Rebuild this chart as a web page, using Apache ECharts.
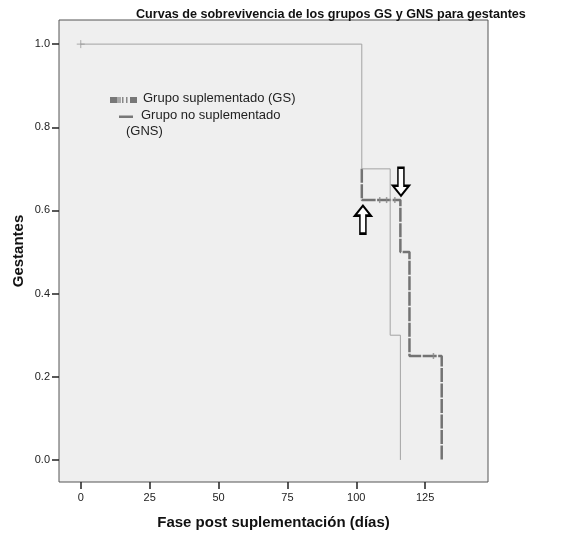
<!DOCTYPE html>
<html>
<head>
<meta charset="utf-8">
<script src="https://cdn.jsdelivr.net/npm/echarts@6/dist/echarts.min.js"></script>
<style>
html, body { margin: 0; padding: 0; background: #fff; }
#chart { width: 584px; height: 535px; }
</style>
</head>
<body>
<div id="chart"></div>
<script>
// Kaplan-Meier steps (GS is hidden under GNS above 0.7)
var gsTimes = [102, 102, 116, 119.3, 131];
var gsSurv = [0.7, 0.625, 0.5, 0.25, 0];
var gnsTimes = [0, 102, 112.3, 116];
var gnsSurv = [1, 0.7, 0.3, 0];
// censored marks
var gsCensorT = [108.5, 111, 114, 128];
var gsCensorS = [0.625, 0.625, 0.625, 0.25];
var gnsCensorT = [0];
var gnsCensorS = [1];
// arrow annotations (time, survival, direction)
var arrowT = [102.4, 116.2];
var arrowS = [0.578, 0.669];
var arrowDir = ['up', 'down'];
// axis ticks
var xTicks = [0, 25, 50, 75, 100, 125];
var yTicks = [0, 0.2, 0.4, 0.6, 0.8, 1.0];

var FONT = 'Liberation Sans';
var ARROW_UP = 'path://M8,0 L16,10 L11,10 L11,28 L5,28 L5,10 L0,10 Z';

function pairs(a, b) {
	return a.map(function(v, i) { return [v, b[i]]; });
}

var chart = echarts.init(document.getElementById('chart'));

chart.setOption({
	animation: false,
	backgroundColor: '#fff',
	title: {
		text: 'Curvas de sobrevivencia de los grupos GS y GNS para gestantes',
		left: 131,
		top: 3,
		textStyle: {
			fontFamily: FONT,
			fontSize: 12.6,
			fontWeight: 'bold',
			color: '#111'
		}
	},
	grid: {
		left: 59,
		right: 96,
		top: 20,
		bottom: 53,
		show: true,
		backgroundColor: '#efefef',
		borderColor: '#555',
		borderWidth: 1
	},
	xAxis: {
		type: 'value',
		min: -7.9,
		max: 147.8,
		name: 'Fase post suplementación (días)',
		nameLocation: 'middle',
		nameGap: 33,
		nameMoveOverlap: false,
		nameTextStyle: {
			fontFamily: FONT,
			fontSize: 15,
			fontWeight: 'bold',
			color: '#111'
		},
		axisLine: { show: false, onZero: false },
		splitLine: { show: false },
		axisTick: {
			show: true,
			length: 7,
			customValues: xTicks,
			lineStyle: { color: '#222', width: 1.5 }
		},
		axisLabel: {
			customValues: xTicks,
			margin: 10,
			fontFamily: FONT,
			fontSize: 11,
			color: '#222'
		}
	},
	yAxis: {
		type: 'value',
		min: -0.053,
		max: 1.058,
		name: 'Gestantes',
		nameLocation: 'middle',
		nameGap: 33,
		nameMoveOverlap: false,
		nameTextStyle: {
			fontFamily: FONT,
			fontSize: 15,
			fontWeight: 'bold',
			color: '#111'
		},
		axisLine: { show: false, onZero: false },
		splitLine: { show: false },
		axisTick: {
			show: true,
			length: 7,
			customValues: yTicks,
			lineStyle: { color: '#222', width: 1.5 }
		},
		axisLabel: {
			customValues: yTicks,
			margin: 9,
			fontFamily: FONT,
			fontSize: 11,
			color: '#222',
			formatter: function(v) { return v.toFixed(1); }
		}
	},
	series: [{
		name: 'Grupo suplementado (GS)',
		type: 'line',
		step: 'end',
		z: 2,
		data: pairs(gsTimes, gsSurv),
		showSymbol: false,
		lineStyle: { color: '#737373', width: 2.5, type: [14, 1.5] },
		markPoint: {
			silent: true,
			label: { show: false },
			data: arrowT.map(function(t, i) {
				return {
					coord: [t, arrowS[i]],
					symbol: ARROW_UP,
					symbolSize: [16, 28],
					symbolRotate: arrowDir[i] === 'up' ? 0 : 180,
					itemStyle: { color: '#fff', borderColor: '#000', borderWidth: 2 }
				};
			})
		}
	}, {
		name: 'Grupo no suplementado (GNS)',
		type: 'line',
		step: 'end',
		z: 3,
		data: pairs(gnsTimes, gnsSurv),
		showSymbol: false,
		lineStyle: { color: '#a3a3a3', width: 1 }
	}, {
		type: 'scatter',
		z: 4,
		data: pairs(gsCensorT, gsCensorS),
		symbol: 'rect',
		symbolSize: [1.5, 6],
		itemStyle: { color: '#888' }
	}, {
		type: 'scatter',
		z: 4,
		data: pairs(gnsCensorT, gnsCensorS),
		symbol: 'path://M4,0 L4,8 M0,4 L8,4',
		symbolSize: 8,
		itemStyle: { color: 'none', borderColor: '#999', borderWidth: 1 }
	}],
	graphic: [
		// legend
		{ type: 'rect', shape: { x: 110, y: 97, width: 7, height: 6 }, style: { fill: '#777' } },
		{ type: 'rect', shape: { x: 117, y: 97, width: 4, height: 6 }, style: { fill: '#aaa' } },
		{ type: 'rect', shape: { x: 122, y: 97, width: 1.5, height: 6 }, style: { fill: '#888' } },
		{ type: 'rect', shape: { x: 126, y: 97, width: 1.5, height: 6 }, style: { fill: '#888' } },
		{ type: 'rect', shape: { x: 130, y: 97, width: 7, height: 6 }, style: { fill: '#777' } },
		{ type: 'text', left: 143, top: 92, style: { text: 'Grupo suplementado (GS)', font: '13px "Liberation Sans"', fill: '#222' } },
		{ type: 'rect', shape: { x: 119, y: 115.5, width: 14, height: 2.5 }, style: { fill: '#777' } },
		{ type: 'text', left: 141, top: 108.5, style: { text: 'Grupo no suplementado', font: '13px "Liberation Sans"', fill: '#222' } },
		{ type: 'text', left: 126, top: 125, style: { text: '(GNS)', font: '13px "Liberation Sans"', fill: '#222' } }
	]
});
</script>
</body>
</html>
